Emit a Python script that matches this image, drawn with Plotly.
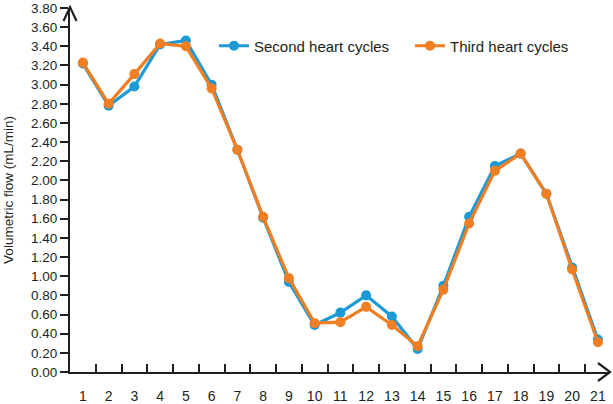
import plotly.graph_objects as go

points = list(range(1, 22))
tick_labels = [str(p) for p in points]
second = [3.22, 2.78, 2.98, 3.42, 3.46, 3.00, 2.32, 1.61, 0.94, 0.49, 0.62,
          0.80, 0.58, 0.24, 0.90, 1.62, 2.15, 2.28, 1.86, 1.09, 0.34]
third = [3.23, 2.80, 3.11, 3.43, 3.40, 2.96, 2.32, 1.62, 0.98, 0.51, 0.52,
         0.68, 0.49, 0.27, 0.86, 1.55, 2.10, 2.28, 1.86, 1.07, 0.31]
y_ticks = [round(i * 0.2, 2) for i in range(20)]

BLUE = "#1b9ad6"
ORANGE = "#f07e22"
AXIS = "#231f20"
FONT = "Liberation Sans, Arial, sans-serif"

W, H = 613, 404
ML, MR, MT, MB = 70, 3, 8, 32
PW, PH = W - ML - MR, H - MT - MB

fig = go.Figure()
fig.add_trace(go.Scatter(x=points, y=second, mode="lines+markers", name="Second heart cycles",
                         line=dict(color=BLUE, width=3.2), marker=dict(color=BLUE, size=10)))
fig.add_trace(go.Scatter(x=points, y=third, mode="lines+markers", name="Third heart cycles",
                         line=dict(color=ORANGE, width=3.2), marker=dict(color=ORANGE, size=10)))


def px_to_paper(px, py):
    return (px - ML) / PW, (H - MB - py) / PH


def chevron(p1, tip, p2):
    a = px_to_paper(*p1)
    b = px_to_paper(*tip)
    c = px_to_paper(*p2)
    return dict(type="path", xref="paper", yref="paper",
                path=f"M{a[0]},{a[1]} L{b[0]},{b[1]} L{c[0]},{c[1]}",
                line=dict(color=AXIS, width=2.2))


shapes = [
    chevron((598, 363), (610, 372), (598, 381)),
    chevron((63.5, 21), (70, 7), (76.5, 21)),
]

fig.update_layout(
    width=W, height=H,
    margin=dict(l=ML, r=MR, t=MT, b=MB, autoexpand=False),
    paper_bgcolor="white", plot_bgcolor="white",
    font=dict(family=FONT, size=13, color="#231f20"),
    showlegend=True,
    legend=dict(orientation="h", x=(214 - ML) / PW, y=(H - MB - 46) / PH,
                xanchor="left", yanchor="middle",
                font=dict(size=15), bgcolor="rgba(0,0,0,0)",
                entrywidth=151, entrywidthmode="pixels"),
    xaxis=dict(range=[0.5, 21.47], tickmode="array", tickvals=points, ticktext=tick_labels,
               ticks="", showgrid=False, zeroline=False, showline=True, linecolor=AXIS,
               linewidth=2, ticklabelstandoff=10, tickfont=dict(size=14), automargin=False,
               minor=dict(tickmode="array", tickvals=[p + 0.5 for p in points[:-1]],
                          ticks="inside", ticklen=8, tickwidth=2, tickcolor=AXIS, showgrid=False)),
    yaxis=dict(range=[0, 3.8], tickmode="array", tickvals=y_ticks,
               ticktext=[f"{v:.2f}" for v in y_ticks], ticks="outside", ticklen=8,
               tickwidth=2, tickcolor=AXIS, showgrid=False, zeroline=False, showline=True,
               linecolor=AXIS, linewidth=2, tickfont=dict(size=13.5), automargin=False,
               title=dict(text="Volumetric flow (mL/min)", font=dict(size=13.5), standoff=14)),
    shapes=shapes,
)

fig.write_html("out.html", config={"displayModeBar": False},
               post_script="document.body.style.margin='0px';")
